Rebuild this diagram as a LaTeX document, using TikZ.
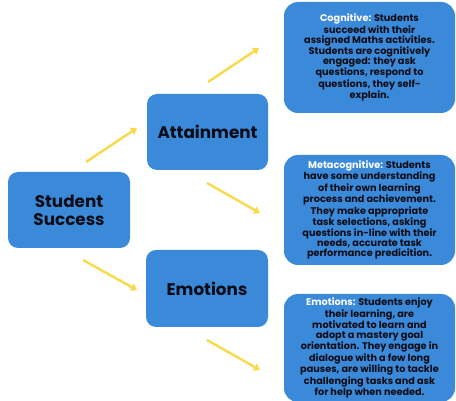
\documentclass[tikz,border=0pt]{standalone}
\usepackage{fontspec}
\setmainfont{Poppins}
\usetikzlibrary{arrows.meta}
\definecolor{boxblue}{RGB}{58,138,217}
\definecolor{arrowyellow}{RGB}{248,218,74}
\definecolor{inkdark}{RGB}{12,12,22}
\begin{document}
\begin{tikzpicture}[x=1pt,y=-1pt,
  mainbox/.style={draw=none,fill=boxblue,rounded corners=10pt,inner sep=0pt,
    text=inkdark,font=\bfseries\fontsize{16.8}{18}\selectfont,align=center},
  infobox/.style={draw=none,fill=boxblue,rounded corners=14pt,inner sep=0pt,
    minimum width=171pt,text=inkdark,font=\bfseries\fontsize{9.7}{10}\selectfont,align=center},
  flow/.style={draw=arrowyellow,line width=2.4pt,-{Triangle[width=8pt,length=6pt]}}]
\useasboundingbox (0,0) rectangle (456,401);
\node[mainbox,minimum width=122pt,minimum height=76pt] (ss) at (69,210) {Student\\Success};
\node[mainbox,minimum width=121pt,minimum height=76pt] (att) at (207.5,132) {Attainment};
\node[mainbox,minimum width=122pt,minimum height=77pt] (emo) at (207,288.5) {Emotions};
\node[infobox,minimum height=111pt] (cog) at (369.5,57.5)
  {\textcolor{white}{Cognitive:} Students\\succeed with their\\assigned Maths activities.\\Students are cognitively\\engaged: they ask\\questions, respond to\\questions, they self-\\explain.};
\node[infobox,minimum height=110pt] (meta) at (369.5,210)
  {\textcolor{white}{Metacognitive:} Students\\have some understanding\\of their own learning\\process and achievement.\\They make appropriate\\task selections, asking\\questions in-line with their\\needs, accurate task\\performance predicition.};
\node[infobox,minimum height=108pt] (emot) at (369.5,348)
  {\textcolor{white}{Emotions:} Students enjoy\\their learning, are\\motivated to learn and\\adopt a mastery goal\\orientation. They engage in\\dialogue with a few long\\pauses, are willing to tackle\\challenging tasks and ask\\for help when needed.};
\coordinate (a1s) at (86,162);  \coordinate (a1e) at (137,128);
\coordinate (a2s) at (83,260);  \coordinate (a2e) at (137,290);
\coordinate (a3s) at (208,82);  \coordinate (a3e) at (259,48);
\coordinate (a4s) at (207,183); \coordinate (a4e) at (260,213);
\coordinate (a5s) at (207,340); \coordinate (a5e) at (260,370);
\draw[flow] (a1s) -- (a1e);
\draw[flow] (a2s) -- (a2e);
\draw[flow] (a3s) -- (a3e);
\draw[flow] (a4s) -- (a4e);
\draw[flow] (a5s) -- (a5e);
\end{tikzpicture}
\end{document}
